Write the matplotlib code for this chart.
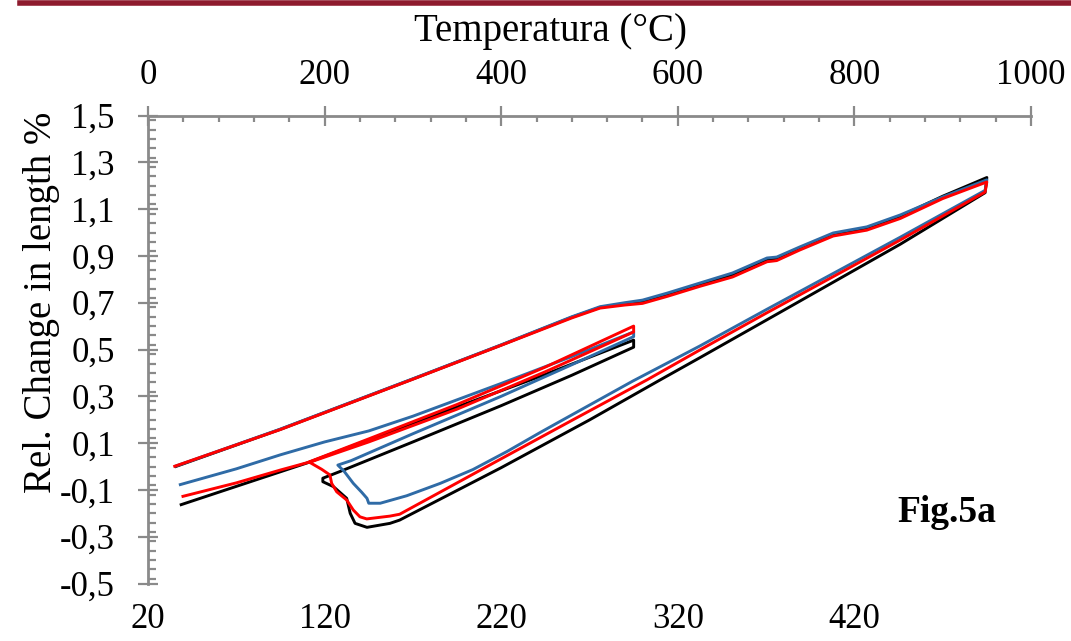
import matplotlib
matplotlib.use("Agg")
import matplotlib.pyplot as plt
from matplotlib.ticker import MultipleLocator, FuncFormatter
from matplotlib.lines import Line2D

# ---------------- data ----------------
# Each sample: heating to 550 °C, hold, cooling, heating through dip to 950 °C, hold, cooling to RT
black_T = [36, 100, 180, 300, 444, 550,
           550, 480, 400, 300, 217, 198,
           198, 210, 225, 229, 234.5, 248, 274, 285, 400, 500, 580, 625, 700, 852, 948,
           950, 900, 852, 814, 776, 738, 712, 701, 662, 625, 588, 560, 540, 512, 480, 400, 300, 150, 30]
black_y = [-0.165, -0.085, 0.015, 0.185, 0.385, 0.54,
           0.51, 0.39, 0.26, 0.105, -0.022, -0.05,
           -0.065, -0.086, -0.136, -0.20, -0.243, -0.26, -0.243, -0.229, -0.005, 0.199, 0.37, 0.465, 0.625, 0.95, 1.17,
           1.235, 1.155, 1.07, 1.018, 0.992, 0.932, 0.89, 0.885, 0.82, 0.777, 0.735, 0.705, 0.695, 0.68, 0.638, 0.519, 0.374, 0.159, -0.002]

blue_T = [35, 100, 150, 200, 250, 300, 400, 480, 550,
          550, 480, 400, 300, 230, 215,
          222, 232.5, 242, 248, 250, 263, 293, 331, 368, 407, 444, 463, 549, 625, 700, 852, 948,
          950, 900, 852, 814, 776, 738, 712, 701, 662, 625, 588, 560, 540, 512, 480, 400, 300, 150, 30]
blue_y = [-0.079, -0.01, 0.05, 0.105, 0.152, 0.215, 0.355, 0.47, 0.575,
          0.555, 0.435, 0.30, 0.14, 0.025, 0.006,
          -0.02, -0.072, -0.11, -0.136, -0.157, -0.157, -0.125, -0.072, -0.013, 0.065, 0.145, 0.185, 0.365, 0.515, 0.67, 0.98, 1.18,
          1.225, 1.152, 1.075, 1.024, 0.998, 0.938, 0.895, 0.891, 0.827, 0.784, 0.741, 0.711, 0.70, 0.683, 0.64, 0.52, 0.375, 0.16, 0.0]

red_T = [38, 100, 150, 180, 250, 350, 450, 550,
         550, 450, 350, 250, 183,
         196.7, 206, 208, 213.7, 225, 232.5, 240, 247.7, 274, 285, 400, 481, 565, 625, 700, 852, 948,
         950, 900, 852, 814, 776, 738, 712, 701, 662, 625, 588, 560, 540, 512, 480, 400, 300, 150, 28.7]
red_y = [-0.129, -0.07, -0.015, 0.016, 0.118, 0.265, 0.425, 0.60,
         0.575, 0.405, 0.245, 0.105, 0.018,
         -0.012, -0.036, -0.072, -0.108, -0.143, -0.186, -0.215, -0.224, -0.212, -0.204, 0.033, 0.199, 0.37, 0.498, 0.655, 0.968, 1.173,
         1.216, 1.145, 1.06, 1.01, 0.985, 0.925, 0.88, 0.875, 0.81, 0.77, 0.727, 0.697, 0.69, 0.677, 0.635, 0.518, 0.373, 0.158, -0.001]

top_ticks = [0, 200, 400, 600, 800, 1000]
bottom_ticks = [20, 120, 220, 320, 420]
y_ticks = [-0.5, -0.3, -0.1, 0.1, 0.3, 0.5, 0.7, 0.9, 1.1, 1.3, 1.5]

# ---------------- figure ----------------
plt.rcParams['font.family'] = ['Liberation Serif', 'DejaVu Serif']

fig = plt.figure(figsize=(10.71, 6.41), dpi=100)
ax = fig.add_axes([148 / 1071, 1 - 583.5 / 641, (1031 - 148) / 1071, (583.5 - 115.5) / 641])

gray = '#8a8a8a'
for T, y, c in [(black_T, black_y, '#000000'), (blue_T, blue_y, '#2f6ba6'), (red_T, red_y, '#ff0000')]:
    ax.plot(T, y, color=c, lw=2.1, solid_joinstyle='round', solid_capstyle='butt')

ax.set_xlim(0, 1000)
ax.set_ylim(-0.5, 1.5)

for s in ['right', 'bottom']:
    ax.spines[s].set_visible(False)
for s in ['left', 'top']:
    ax.spines[s].set_color(gray)
    ax.spines[s].set_linewidth(2.0)

ax.xaxis.tick_top()
ax.set_xticks(top_ticks)
ax.xaxis.set_minor_locator(MultipleLocator(40))
ax.set_yticks(y_ticks)
ax.yaxis.set_minor_locator(MultipleLocator(0.04))
ax.yaxis.set_major_formatter(FuncFormatter(lambda v, p: f"{v:.1f}".replace('.', ',')))

ax.tick_params(axis='x', which='major', direction='inout', length=14, width=1.6, color=gray,
               labelsize=25, pad=10, top=True, bottom=False)
ax.tick_params(axis='x', which='minor', direction='in', length=4.5, width=1.6, color=gray, top=True, bottom=False)
ax.tick_params(axis='y', which='major', direction='inout', length=14, width=1.6, color=gray,
               labelsize=25, pad=17)
ax.tick_params(axis='y', which='minor', direction='in', length=6, width=1.6, color=gray)

sec = ax.secondary_xaxis('bottom', functions=(lambda T: 20 + T / 2, lambda t: (t - 20) * 2))
sec.set_xticks(bottom_ticks)
sec.tick_params(length=0, labelsize=25, pad=14)
sec.spines['bottom'].set_visible(False)

fig.text(551 / 1071, 1 - 31 / 641, 'Temperatura (°C)', ha='center', va='center', fontsize=28)
fig.text(42 / 1071, 1 - 302 / 641, 'Rel. Change in length %', ha='center', va='center',
         rotation=90, fontsize=28)
fig.text(947 / 1071, 1 - 513 / 641, 'Fig.5a', ha='center', va='center', fontsize=27, fontweight='bold')

fig.add_artist(Line2D([20 / 1071, 1.0], [1 - 3 / 641, 1 - 3 / 641], transform=fig.transFigure,
                      color='#8e1b2e', lw=4))

fig.savefig('out.png', dpi=100)
